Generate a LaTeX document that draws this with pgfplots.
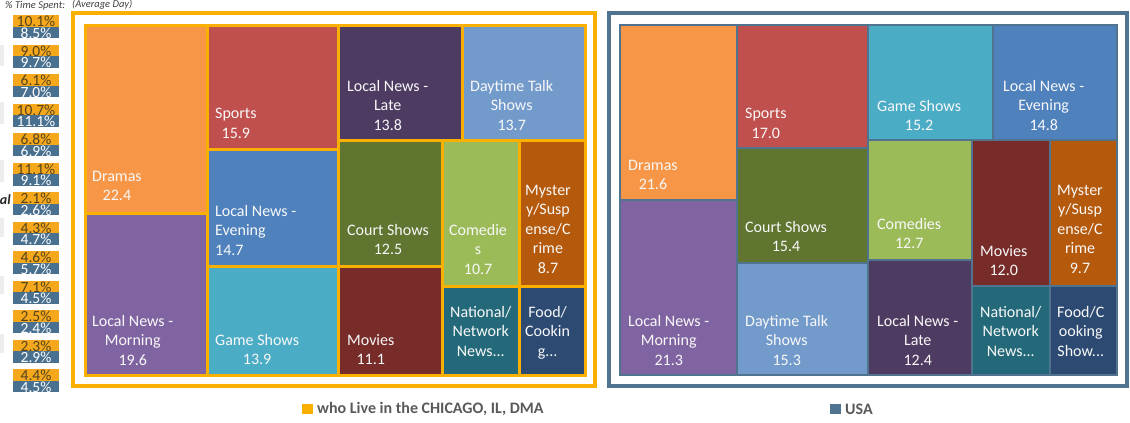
\documentclass[border=0pt]{standalone}
\usepackage{fontspec}
\setmainfont{Carlito}
\usepackage{pgfplots}
\pgfplotsset{compat=1.18}

% tile colours (Office 2010 palette)
\definecolor{dramas}{HTML}{F79646}
\definecolor{lnmorn}{HTML}{8064A2}
\definecolor{sports}{HTML}{C0504D}
\definecolor{lneve}{HTML}{4F81BD}
\definecolor{games}{HTML}{4BACC6}
\definecolor{lnlate}{HTML}{4E3B62}
\definecolor{dtalk}{HTML}{729ACA}
\definecolor{court}{HTML}{5F7530}
\definecolor{comed}{HTML}{9BBB59}
\definecolor{myst}{HTML}{B55A0C}
\definecolor{movies}{HTML}{772C2A}
\definecolor{natl}{HTML}{24697A}
\definecolor{food}{HTML}{2C4A72}
% frames, boxes, text
\definecolor{goldb}{HTML}{F9B000}
\definecolor{steel}{HTML}{50748F}
\definecolor{pcto}{HTML}{F5A81C}
\definecolor{pctb}{HTML}{4A7090}
\definecolor{pctt}{HTML}{54431F}
\definecolor{labw}{HTML}{F8F8F8}
\definecolor{legt}{HTML}{595959}

\newcommand{\lbl}{\fontsize{16}{19.5}\selectfont}
% x0 y0 x1 y1 fill  (pixel coordinates, y downwards)
\newcommand{\ltile}[5]{\addplot[fill=#5,draw=goldb,line width=3pt,line cap=rect] coordinates {(#1,#2) (#3,#2) (#3,#4) (#1,#4) (#1,#2)};}
\newcommand{\rtile}[5]{\addplot[fill=#5,draw=steel,line width=2.5pt,line cap=rect] coordinates {(#1,#2) (#3,#2) (#3,#4) (#1,#4) (#1,#2)};}
% [align] x ytop text
\newcommand{\lab}[4][center]{\node[anchor=north west,inner sep=0pt,align=#1,text=labw,font=\lbl] at (axis cs:#2,#3) {#4};}
% ytop ymid ybot top-value bottom-value
\newcommand{\pct}[5]{%
  \addplot[fill=pcto,draw=none] coordinates {(13,#1) (59,#1) (59,#2) (13,#2)};
  \addplot[fill=pctb,draw=none] coordinates {(13,#2) (59,#2) (59,#3) (13,#3)};
  \node[anchor=north,inner sep=0pt,align=center,font=\fontsize{15.5}{11.5}\selectfont] at (axis cs:36,#1+1) {\textcolor{pctt}{#4}\\\textcolor{white}{#5}};}

\begin{document}
\begin{tikzpicture}
\begin{axis}[
    width=1130pt, height=423pt, scale only axis,
    xmin=0, xmax=1130, ymin=0, ymax=423, y dir=reverse,
    axis lines=none, clip=false,
  ]
  % cut-off row stubs at the left edge
  \addplot[fill=black!7,draw=none] coordinates {(0,45) (4,45) (4,66) (0,66)};
  \addplot[fill=black!7,draw=none] coordinates {(0,102) (4,102) (4,124) (0,124)};
  \addplot[fill=black!7,draw=none] coordinates {(0,160) (4,160) (4,182) (0,182)};
  \addplot[fill=black!7,draw=none] coordinates {(0,218) (4,218) (4,237) (0,237)};
  \addplot[fill=black!7,draw=none] coordinates {(0,276) (4,276) (4,294) (0,294)};
  \addplot[fill=black!7,draw=none] coordinates {(0,334) (4,334) (4,353) (0,353)};
  \node[anchor=east,inner sep=0pt,font=\fontsize{14}{14}\selectfont\bfseries\itshape,text=black!85] at (axis cs:11,200) {al};

  \node[anchor=west,inner sep=0pt,font=\fontsize{10.5}{10.5}\selectfont\itshape,text=black!75] at (axis cs:5,6) {\% Time Spent:};
  \node[anchor=west,inner sep=0pt,font=\fontsize{10.5}{10.5}\selectfont\itshape,text=black!75] at (axis cs:72,5) {(Average Day)};

  % % time spent: local (top) / USA (bottom)
  \pct{15}{26.5}{38}{10.1\%}{8.5\%}
  \pct{44.5}{56}{67.5}{9.0\%}{9.7\%}
  \pct{74}{85.5}{97}{6.1\%}{7.0\%}
  \pct{103.5}{115}{126.5}{10.7\%}{11.1\%}
  \pct{133}{144.5}{156}{6.8\%}{6.9\%}
  \pct{162.5}{174}{185.5}{11.1\%}{9.1\%}
  \pct{192}{203.5}{215}{2.1\%}{2.6\%}
  \pct{221.5}{233}{244.5}{4.3\%}{4.7\%}
  \pct{251}{262.5}{274}{4.6\%}{5.7\%}
  \pct{280.5}{292}{303.5}{7.1\%}{4.5\%}
  \pct{310}{321.5}{333}{2.5\%}{2.4\%}
  \pct{339.5}{351}{362.5}{2.3\%}{2.9\%}
  \pct{369}{380.5}{392}{4.4\%}{4.5\%}

  % ---- Chicago DMA treemap
  \draw[goldb,line width=4pt] (axis cs:73,13) rectangle (axis cs:595,386);
  \ltile{85}{25}{207}{213}{dramas}
  \ltile{85}{213}{207}{375}{lnmorn}
  \ltile{207}{25}{338}{149}{sports}
  \ltile{207}{149}{338}{266}{lneve}
  \ltile{207}{266}{338}{375}{games}
  \ltile{338}{25}{462}{140}{lnlate}
  \ltile{462}{25}{585}{140}{dtalk}
  \ltile{338}{140}{442}{266}{court}
  \ltile{338}{266}{442}{375}{movies}
  \ltile{442}{140}{519}{286}{comed}
  \ltile{519}{140}{585}{286}{myst}
  \ltile{442}{286}{519}{375}{natl}
  \ltile{519}{286}{585}{375}{food}
  \lab{92}{171}{Dramas\\22.4}
  \lab{92}{315}{Local News -\\Morning\\19.6}
  \lab{215}{108}{Sports\\15.9}
  \lab[left]{215}{205}{Local News -\\Evening\\14.7}
  \lab{215}{334}{Game Shows\\13.9}
  \lab{347}{80}{Local News -\\Late\\13.8}
  \lab{470}{80}{Daytime Talk\\Shows\\13.7}
  \lab{347}{224}{Court Shows\\12.5}
  \lab{347}{334}{Movies\\11.1}
  \lab{449}{224}{Comedie\\s\\10.7}
  \lab{525}{185}{Myster\\y/Susp\\ense/C\\rime\\8.7}
  \lab{450}{306}{National/\\Network\\News...}
  \lab{525}{306}{Food/\\Cookin\\g...}

  % ---- USA treemap
  \draw[steel,line width=4pt] (axis cs:608.5,13) rectangle (axis cs:1127,386);
  \rtile{620}{25}{737}{200}{dramas}
  \rtile{620}{200}{737}{375}{lnmorn}
  \rtile{737}{25}{868}{148}{sports}
  \rtile{737}{148}{868}{263}{court}
  \rtile{737}{263}{868}{375}{dtalk}
  \rtile{868}{25}{993}{140}{games}
  \rtile{993}{25}{1117}{140}{lneve}
  \rtile{868}{140}{972}{260}{comed}
  \rtile{868}{260}{972}{375}{lnlate}
  \rtile{972}{140}{1050}{286}{movies}
  \rtile{1050}{140}{1117}{286}{myst}
  \rtile{972}{286}{1050}{375}{natl}
  \rtile{1050}{286}{1117}{375}{food}
  \lab{628}{160}{Dramas\\21.6}
  \lab{628}{315}{Local News -\\Morning\\21.3}
  \lab{745}{108}{Sports\\17.0}
  \lab{745}{221}{Court Shows\\15.4}
  \lab{745}{315}{Daytime Talk\\Shows\\15.3}
  \lab{877}{100}{Game Shows\\15.2}
  \lab{1003}{80}{Local News -\\Evening\\14.8}
  \lab{877}{218}{Comedies\\12.7}
  \lab{877}{315}{Local News -\\Late\\12.4}
  \lab{980}{245}{Movies\\12.0}
  \lab{1057}{185}{Myster\\y/Susp\\ense/C\\rime\\9.7}
  \lab{980}{306}{National/\\Network\\News...}
  \lab{1057}{306}{Food/C\\ooking\\Show...}

  % ---- legend
  \fill[goldb] (axis cs:302,403.5) rectangle (axis cs:313,414);
  \node[anchor=west,inner sep=0pt,font=\fontsize{16}{16}\selectfont\bfseries,text=legt] at (axis cs:317,409) {who Live in the CHICAGO, IL, DMA};
  \fill[steel] (axis cs:830,403.5) rectangle (axis cs:841,414);
  \node[anchor=west,inner sep=0pt,font=\fontsize{16}{16}\selectfont\bfseries,text=legt] at (axis cs:845,409) {USA};
\end{axis}
\pgfresetboundingbox
\path (0,0) rectangle (1130pt,423pt);
\end{tikzpicture}
\end{document}
